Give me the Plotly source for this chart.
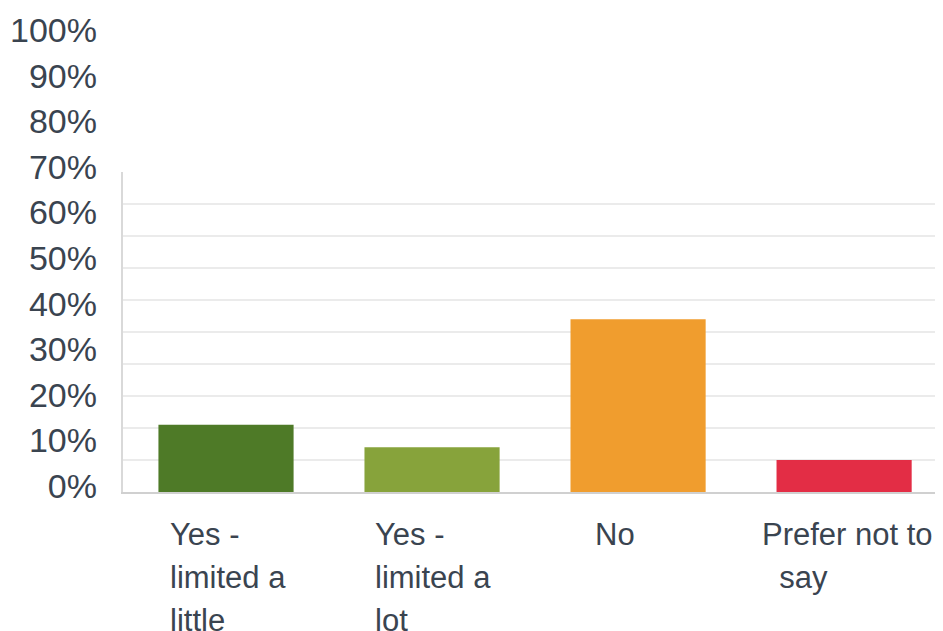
import plotly.graph_objects as go

categories = ["Yes - limited a little", "Yes - limited a lot", "No", "Prefer not to say"]
label_lines = [["Yes -", "limited a", "little"],
               ["Yes -", "limited a", "lot"],
               ["No"],
               ["Prefer not to", "\u00a0\u00a0say"]]
values = [0.21, 0.14, 0.54, 0.10]
colors = ["#4e7a27", "#87a33b", "#f09d2e", "#e32d45"]
tick_vals = [0, 0.1, 0.2, 0.3, 0.4, 0.5, 0.6, 0.7, 0.8, 0.9, 1.0]

# the page body has an 8px margin, so the figure is a bit smaller than the window
W, H = 935, 623
OFF = 8
font = "Liberation Sans, Arial, sans-serif"
txt = "#3a4450"


def fx(px):
    return (px - OFF) / W


def fy(py):
    return 1 - (py - OFF) / H


fig = go.Figure()
fig.add_trace(go.Bar(x=categories, y=values, marker=dict(color=colors, line=dict(width=0)),
                     showlegend=False, hoverinfo="skip"))
# invisible trace so the (offset) label axis gets drawn
fig.add_trace(go.Scatter(x=[categories[0]], y=[0], yaxis="y2", mode="markers",
                         marker=dict(opacity=0), showlegend=False, hoverinfo="skip"))

# category labels, one annotation per line (wide line spacing like the original)
left_shift = [-58, -59, -45, -84]
for i, lines in enumerate(label_lines):
    for j, line in enumerate(lines):
        fig.add_annotation(x=categories[i], y=fy(534 + 43 * j), xref="x", yref="paper",
                           text=line, showarrow=False, xanchor="left", yanchor="middle",
                           xshift=left_shift[i],
                           font=dict(family=font, size=31, color=txt))

fig.update_layout(
    width=W, height=H,
    margin=dict(l=0, r=0, t=0, b=0, autoexpand=False),
    paper_bgcolor="white", plot_bgcolor="rgba(0,0,0,0)",
    bargap=0.344,
    xaxis=dict(domain=[fx(123), 1], range=[-0.5, 3.48], showticklabels=False, ticks="",
               showline=True, linecolor="#d0d0d0", linewidth=2, showgrid=False),
    yaxis=dict(domain=[fy(492), fy(172)], range=[0, 1], tickvals=tick_vals,
               showticklabels=False, showgrid=True, gridcolor="#ebebeb", gridwidth=2,
               zeroline=False, showline=True, linecolor="#d9d9d9", linewidth=1.5),
    yaxis2=dict(domain=[fy(486), fy(30)], range=[0, 1], tickvals=tick_vals,
                tickformat=".0%", anchor="free", position=fx(97),
                showgrid=False, zeroline=False, showline=False, ticks="",
                tickfont=dict(family=font, size=34, color=txt)),
)

fig.write_html("out.html")
